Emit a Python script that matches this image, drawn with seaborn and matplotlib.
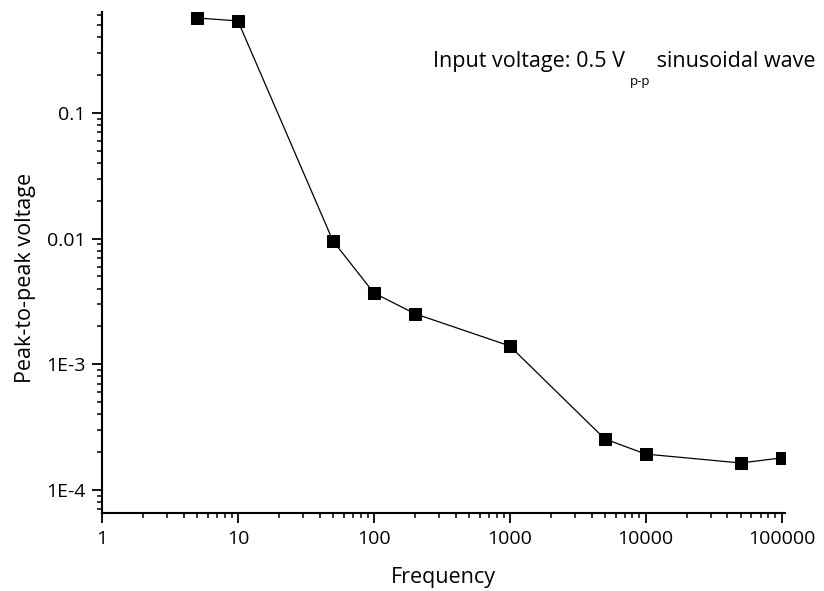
import matplotlib
matplotlib.use("Agg")
import matplotlib.pyplot as plt
import matplotlib.ticker as mticker
import pandas as pd
import seaborn as sns

frequency = [5, 10, 50, 100, 200, 1000, 5000, 10000, 50000, 100000]
vpp = [0.57, 0.54, 0.0096, 0.0037, 0.00253, 0.0014, 0.000255, 0.000193, 0.000164, 0.00018]

x_ticks = [1, 10, 100, 1000, 10000, 100000]
x_labels = ["1", "10", "100", "1000", "10000", "100000"]
y_ticks = [1e-4, 1e-3, 1e-2, 1e-1]
y_labels = ["1E-4", "1E-3", "0.01", "0.1"]

df = pd.DataFrame({"Frequency": frequency, "Vpp": vpp})

sns.set_style("ticks")
plt.rcParams["font.family"] = ["Open Sans", "DejaVu Sans"]
plt.rcParams["text.color"] = "black"
plt.rcParams["axes.labelcolor"] = "black"
plt.rcParams["xtick.color"] = "black"
plt.rcParams["ytick.color"] = "black"

fig = plt.figure(figsize=(8.24, 5.91), dpi=100)
ax = fig.add_axes([0.1238, 0.132, 0.8289, 0.8477])
ax.set_xscale("log")
ax.set_yscale("log")

sns.lineplot(data=df, x="Frequency", y="Vpp", ax=ax, color="black", linewidth=0.9,
             marker="s", markersize=8, markeredgecolor="black", markerfacecolor="black")

ax.set_xlim(1, 1.06e5)
ax.set_ylim(6.56e-5, 0.636)

ax.xaxis.set_major_locator(mticker.FixedLocator(x_ticks))
ax.xaxis.set_major_formatter(mticker.FixedFormatter(x_labels))
ax.yaxis.set_major_locator(mticker.FixedLocator(y_ticks))
ax.yaxis.set_major_formatter(mticker.FixedFormatter(y_labels))
ax.xaxis.set_minor_locator(mticker.LogLocator(base=10, subs=range(2, 10), numticks=20))
ax.yaxis.set_minor_locator(mticker.LogLocator(base=10, subs=range(2, 10), numticks=20))
ax.xaxis.set_minor_formatter(mticker.NullFormatter())
ax.yaxis.set_minor_formatter(mticker.NullFormatter())

sns.despine(ax=ax)
for side in ["left", "bottom"]:
    ax.spines[side].set_linewidth(1.5)
    ax.spines[side].set_color("black")
ax.tick_params(which="major", length=7, width=1.3, color="black", labelcolor="black",
               labelsize=14, pad=5)
ax.tick_params(which="minor", length=3.8, width=1.1, color="black")

ax.set_xlabel("Frequency", fontsize=15.5, labelpad=14, color="black")
ax.set_ylabel("Peak-to-peak voltage", fontsize=15.5, labelpad=7, color="black", y=0.47)

# Beschriftung mit tiefgestelltem "p-p"
t1 = ax.text(0.485, 0.890, "Input voltage: 0.5 V", transform=ax.transAxes,
             fontsize=15.5, va="baseline", ha="left", color="black")
t2 = ax.annotate("p-p", xy=(1, 0), xycoords=t1, xytext=(3, -2), textcoords="offset points",
                 fontsize=9.5, va="top", ha="left", color="black")
ax.annotate(" sinusoidal wave", xy=(1, 0.890), xycoords=(t2, ax.transAxes),
            xytext=(1, 0), textcoords="offset points", fontsize=15.5, va="baseline",
            ha="left", color="black")

fig.savefig("out.png", dpi=100)
